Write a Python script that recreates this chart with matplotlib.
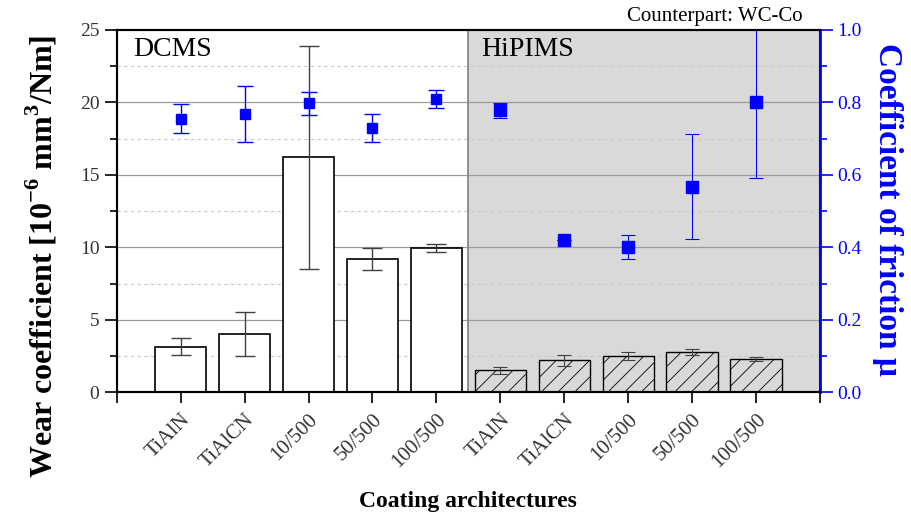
import numpy as np
import matplotlib.pyplot as plt
from matplotlib.ticker import MultipleLocator

plt.rcParams['font.family'] = ['Liberation Serif', 'DejaVu Serif']
plt.rcParams['hatch.linewidth'] = 0.6
plt.rcParams['axes.unicode_minus'] = False

labels = ['TiAlN', 'TiAlCN', '10/500', '50/500', '100/500',
          'TiAlN', 'TiAlCN', '10/500', '50/500', '100/500']

# wear coefficient, 10^-6 mm^3/Nm
wear_dcms = [3.15, 4.0, 16.2, 9.2, 9.95]
wear_dcms_err = [0.6, 1.5, 7.7, 0.75, 0.3]
wear_hipims = [1.5, 2.2, 2.5, 2.75, 2.3]
wear_hipims_err = [0.25, 0.4, 0.25, 0.2, 0.12]

# coefficient of friction
cof_dcms = [0.755, 0.767, 0.797, 0.729, 0.809]
cof_dcms_err = [0.04, 0.077, 0.033, 0.039, 0.025]
cof_hipims = [0.778, 0.42, 0.401, 0.567, 0.80]
cof_hipims_err = [0.02, 0.0, 0.032, 0.145, 0.21]

blue = '#0000ff'

x_dcms = np.arange(1, 6)
x_hip = np.arange(6, 11)

fig = plt.figure(figsize=(9.12, 5.25), dpi=100)
ax = fig.add_axes([0.128, 0.253, 0.771, 0.690])
ax2 = ax.twinx()

ax.set_xlim(0, 11)
ax.set_ylim(0, 25)
ax2.set_ylim(0, 1.0)

# HiPIMS background region
ax.axvspan(5.5, 11, color='#d9d9d9', zorder=0, lw=0)
ax.axvline(5.5, color='#808080', lw=1.2, zorder=1)

# grid
for v in [5, 10, 15, 20]:
    ax.axhline(v, color='#9a9a9a', lw=0.9, zorder=0.5)
for v in [2.5, 7.5, 12.5, 17.5, 22.5]:
    ax.axhline(v, color='#c8c8c8', lw=0.8, ls=(0, (3, 3)), zorder=0.5)

# bars
ax.bar(x_dcms, wear_dcms, width=0.8, facecolor='white', edgecolor='black',
       lw=1.2, zorder=2)
ax.bar(x_hip, wear_hipims, width=0.8, facecolor='none', edgecolor='black',
       lw=1.0, hatch='//', zorder=2)
ax.errorbar(x_dcms, wear_dcms, yerr=wear_dcms_err, fmt='none', ecolor='#404040',
            elinewidth=1.0, capsize=7, capthick=1.0, zorder=3)
ax.errorbar(x_hip, wear_hipims, yerr=wear_hipims_err, fmt='none', ecolor='#404040',
            elinewidth=0.8, capsize=5, capthick=0.8, zorder=3)

# friction coefficient
ax2.errorbar(x_dcms, cof_dcms, yerr=cof_dcms_err, fmt='s', color=blue, ms=7,
             ecolor=blue, elinewidth=1.0, capsize=6, capthick=1.0)
ax2.errorbar(x_hip, cof_hipims, yerr=cof_hipims_err, fmt='s', color=blue, ms=9,
             ecolor=blue, elinewidth=0.8, capsize=5, capthick=0.8)

# axes styling
ax.set_xticks(np.arange(0, 12))
ax.set_xticklabels([''] + labels + [''], rotation=45, ha='right',
                   rotation_mode='anchor', fontsize=15, color='#333333')
ax.tick_params(axis='x', direction='out', length=8, width=1.2, pad=5)
ax.yaxis.set_major_locator(MultipleLocator(5))
ax.yaxis.set_minor_locator(MultipleLocator(2.5))
ax.tick_params(axis='y', which='major', direction='out', length=9, width=1.2,
               labelsize=14, labelcolor='#333333')
ax.tick_params(axis='y', which='minor', direction='out', length=5, width=1.2)

ax2.yaxis.set_major_locator(MultipleLocator(0.2))
ax2.yaxis.set_minor_locator(MultipleLocator(0.1))
ax2.tick_params(axis='y', which='major', direction='out', length=9, width=1.2,
                labelsize=14, colors=blue)
ax2.tick_params(axis='y', which='minor', direction='out', length=5, width=1.2,
                colors=blue)
ax2.yaxis.set_major_formatter(plt.FuncFormatter(lambda v, p: f'{v:.1f}'))

for a in (ax, ax2):
    for s in a.spines.values():
        s.set_linewidth(1.5)
ax2.spines['right'].set_color(blue)
ax2.spines['right'].set_linewidth(2)
ax.set_zorder(ax2.get_zorder() - 1)
ax.patch.set_visible(True)
ax2.patch.set_visible(False)

ax.set_ylabel('Wear coefficient [10$^{\\mathregular{-6}}$ mm$^{\\mathregular{3}}$/Nm]',
              fontsize=23, fontweight='bold')
ax.yaxis.set_label_coords(-0.082, 0.375)
ax2.set_ylabel('Coefficient of friction \u03bc', fontsize=24, fontweight='bold',
               color=blue, rotation=270)
ax2.yaxis.set_label_coords(1.118, 0.503)
ax.set_xlabel('Coating architectures', fontsize=17, fontweight='bold', labelpad=14)

ax.text(0.25, 24.5, 'DCMS', fontsize=20, va='top', ha='left')
ax.text(5.7, 24.5, 'HiPIMS', fontsize=20, va='top', ha='left')
ax.text(10.73, 25.3, 'Counterpart: WC-Co', fontsize=15, va='bottom', ha='right')

fig.savefig('out.png', dpi=100)
